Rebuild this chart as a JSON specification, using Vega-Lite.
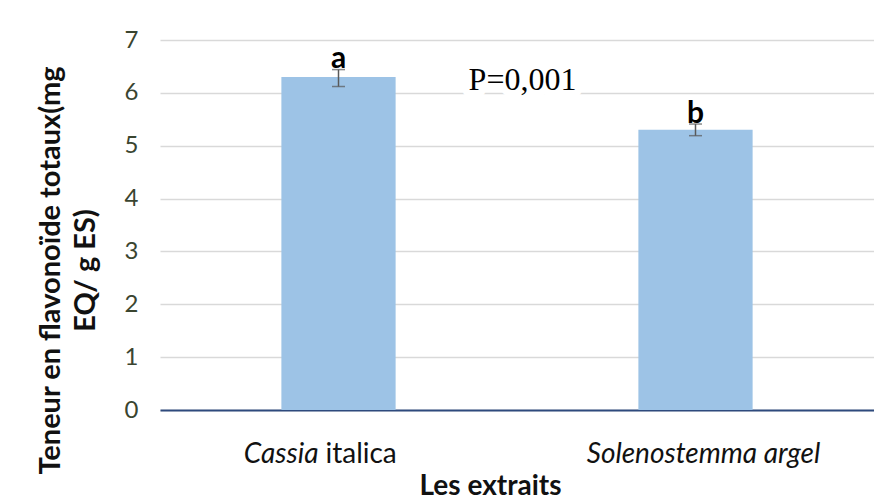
{
  "$schema": "https://vega.github.io/schema/vega-lite/v6.json",
  "autosize": "none",
  "width": 714,
  "height": 370,
  "padding": {"left": 160, "top": 40, "right": 0, "bottom": 94},
  "background": "white",
  "config": {"view": {"stroke": null}, "font": "Lato"},
  "data": {"values": [
    {"cat": "Cassia italica", "mean": 6.3, "lo": 6.12, "hi": 6.44, "letter": "a"},
    {"cat": "Solenostemma argel", "mean": 5.3, "lo": 5.19, "hi": 5.41, "letter": "b"}
  ]},
  "layer": [
    {
      "mark": {"type": "bar", "color": "#9dc3e6"},
      "encoding": {
        "x": {"field": "cat", "type": "nominal", "sort": null, "title": "Les extraits",
          "scale": {"paddingInner": 0.68, "paddingOuter": 0.34},
          "axis": {"labels": false, "ticks": false, "domainColor": "#2e4a7d", "domainWidth": 2,
            "titleFontSize": 28, "titleFontWeight": "bold", "titleColor": "#111111",
            "titlePadding": 62, "titleX": 330}},
        "y": {"field": "mean", "type": "quantitative", "title": ["Teneur en flavonoïde totaux(mg", "EQ/ g ES)"],
          "scale": {"domain": [0, 7]},
          "axis": {"values": [0, 1, 2, 3, 4, 5, 6, 7], "format": "d", "domain": false, "ticks": false,
            "gridColor": "#d9d9d9", "gridWidth": 1.5,
            "labelFontSize": 24, "labelColor": "#3a4530", "labelPadding": 22,
            "titleFontSize": 29, "titleFontWeight": "bold", "titleColor": "#111111",
            "titleLineHeight": 35, "titlePadding": 24, "titleY": 230}}
      }
    },
    {
      "mark": {"type": "errorbar", "color": "#595959", "thickness": 1.5, "ticks": {"size": 13, "thickness": 1.5}},
      "encoding": {
        "x": {"field": "cat", "type": "nominal", "sort": null, "title": "Les extraits"},
        "y": {"field": "lo", "type": "quantitative", "title": ["Teneur en flavonoïde totaux(mg", "EQ/ g ES)"]},
        "y2": {"field": "hi"}
      }
    },
    {
      "mark": {"type": "text", "fontWeight": "bold", "fontSize": 30, "baseline": "alphabetic", "dy": -1.5, "color": "#000000"},
      "encoding": {
        "x": {"field": "cat", "type": "nominal", "sort": null, "title": "Les extraits"},
        "y": {"field": "hi", "type": "quantitative", "title": ["Teneur en flavonoïde totaux(mg", "EQ/ g ES)"]},
        "text": {"field": "letter"}
      }
    },
    {
      "data": {"values": [{}]},
      "mark": {"type": "text", "font": "Liberation Serif", "fontSize": 32, "baseline": "alphabetic", "align": "center", "dx": 184, "color": "white", "stroke": "white", "strokeWidth": 14, "strokeJoin": "round"},
      "encoding": {
        "x": {"datum": "Cassia italica"},
        "y": {"datum": 6.05},
        "text": {"value": "P=0,001"}
      }
    },
    {
      "data": {"values": [{}]},
      "mark": {"type": "text", "font": "Liberation Serif", "fontSize": 32, "baseline": "alphabetic", "align": "center", "dx": 184, "color": "#000000"},
      "encoding": {
        "x": {"datum": "Cassia italica"},
        "y": {"datum": 6.05},
        "text": {"value": "P=0,001"}
      }
    },
    {
      "data": {"values": [{}]},
      "mark": {"type": "text", "fontSize": 28, "fontStyle": "italic", "baseline": "alphabetic", "align": "right", "dx": -20, "dy": 53, "color": "#111111"},
      "encoding": {
        "x": {"datum": "Cassia italica"},
        "y": {"datum": 0},
        "text": {"value": "Cassia"}
      }
    },
    {
      "data": {"values": [{}]},
      "mark": {"type": "text", "fontSize": 28, "baseline": "alphabetic", "align": "left", "dx": -13, "dy": 53, "color": "#111111"},
      "encoding": {
        "x": {"datum": "Cassia italica"},
        "y": {"datum": 0},
        "text": {"value": "italica"}
      }
    },
    {
      "data": {"values": [{}]},
      "mark": {"type": "text", "fontSize": 28, "fontStyle": "italic", "baseline": "alphabetic", "align": "center", "dx": 8, "dy": 53, "color": "#111111"},
      "encoding": {
        "x": {"datum": "Solenostemma argel"},
        "y": {"datum": 0},
        "text": {"value": "Solenostemma argel"}
      }
    }
  ]
}
